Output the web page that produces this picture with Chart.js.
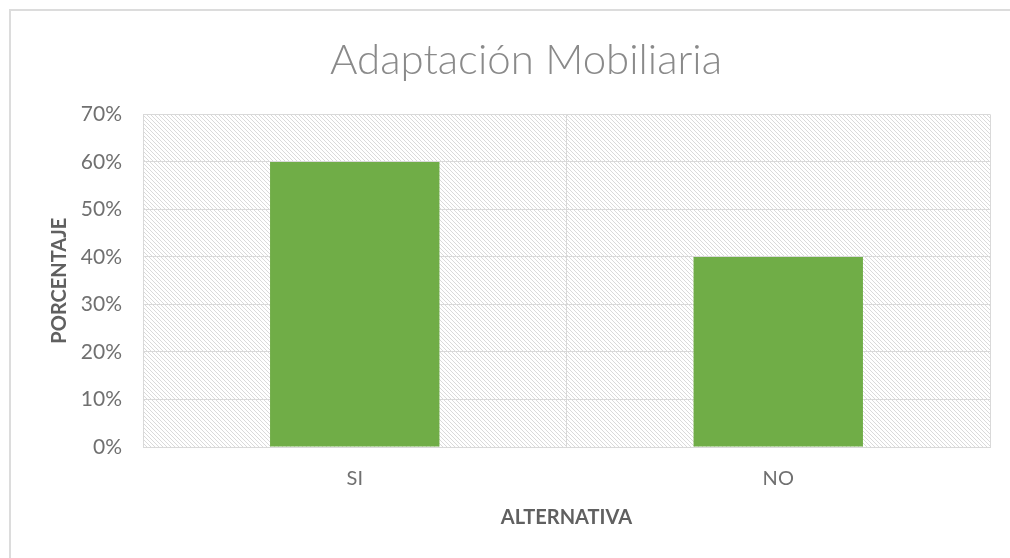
<!DOCTYPE html>
<html>
<head>
<meta charset="utf-8">
<script src="https://cdn.jsdelivr.net/npm/chart.js@4.4.1/dist/chart.umd.min.js"></script>
<style>
  html, body { margin: 0; padding: 0; background: #fff; overflow: hidden; }
  #wrap { position: relative; width: 1010px; height: 558px; }
  #frame { position: absolute; left: 9px; top: 9px; width: 1010px; height: 560px; border-left: 2px solid #dcdcdc; border-top: 2px solid #dcdcdc; box-sizing: border-box; pointer-events: none; }
</style>
</head>
<body>
<div id="wrap">
  <canvas id="c" width="1010" height="558"></canvas>
  <div id="frame"></div>
</div>
<script>
const categories = ["SI", "NO"];
const values = [60, 40];
const yTicks = [0, 10, 20, 30, 40, 50, 60, 70];
const titleText = "Adaptación Mobiliaria";
const xTitle = "ALTERNATIVA";
const yTitle = "PORCENTAJE";

function makePattern() {
  const t = document.createElement('canvas');
  t.width = 4; t.height = 4;
  const g = t.getContext('2d');
  g.fillStyle = '#ffffff';
  g.fillRect(0, 0, 4, 4);
  g.strokeStyle = '#dadada';
  g.lineWidth = 1;
  g.beginPath();
  g.moveTo(-1, -1); g.lineTo(5, 5);
  g.moveTo(-1, 3); g.lineTo(1, 5);
  g.moveTo(3, -1); g.lineTo(5, 1);
  g.stroke();
  return g.createPattern(t, 'repeat');
}

const bgPlugin = {
  id: 'plotBg',
  beforeDraw(chart) {
    const a = chart.chartArea;
    const ctx = chart.ctx;
    ctx.save();
    ctx.fillStyle = makePattern();
    ctx.fillRect(a.left, a.top, a.right - a.left, a.bottom - a.top);
    ctx.restore();
  }
};

const font = "Lato, 'Open Sans', sans-serif";

new Chart(document.getElementById('c'), {
  type: 'bar',
  data: {
    labels: categories,
    datasets: [{
      data: values,
      backgroundColor: '#70ad47',
      borderWidth: 0,
      barPercentage: 0.4,
      categoryPercentage: 1.0
    }]
  },
  plugins: [bgPlugin],
  options: {
    responsive: false,
    animation: false,
    layout: { padding: { left: 62, right: 20, top: 0, bottom: 0 } },
    plugins: {
      legend: { display: false },
      tooltip: { enabled: false },
      title: {
        display: true,
        text: titleText,
        color: '#8a8a8a',
        font: { family: font, size: 42, weight: '300' },
        padding: { top: 35, bottom: 29 }
      }
    },
    scales: {
      x: {
        grid: { offset: true, color: '#d9d9d9', lineWidth: 1, drawTicks: false },
        border: { display: true, color: '#d9d9d9' },
        ticks: { color: '#707070', font: { family: font, size: 20 }, padding: 20 },
        title: { display: true, text: xTitle, color: '#606060', font: { family: font, size: 20, weight: 'bold' }, padding: { top: 0, bottom: 28 } },
        afterFit(s) { s.height = 111; }
      },
      y: {
        min: 0, max: 70,
        afterBuildTicks(s) { s.ticks = yTicks.map(v => ({ value: v })); },
        grid: { color: '#d9d9d9', lineWidth: 1, drawTicks: false },
        border: { display: false },
        ticks: {
          color: '#707070', font: { family: font, size: 21 }, padding: 21,
          callback: v => v + '%'
        },
        title: { display: true, text: yTitle, color: '#606060', font: { family: font, size: 20, weight: 'bold' }, padding: { top: -14, bottom: 0 } },
        afterFit(s) { s.width = 81; }
      }
    }
  }
});
</script>
</body>
</html>
